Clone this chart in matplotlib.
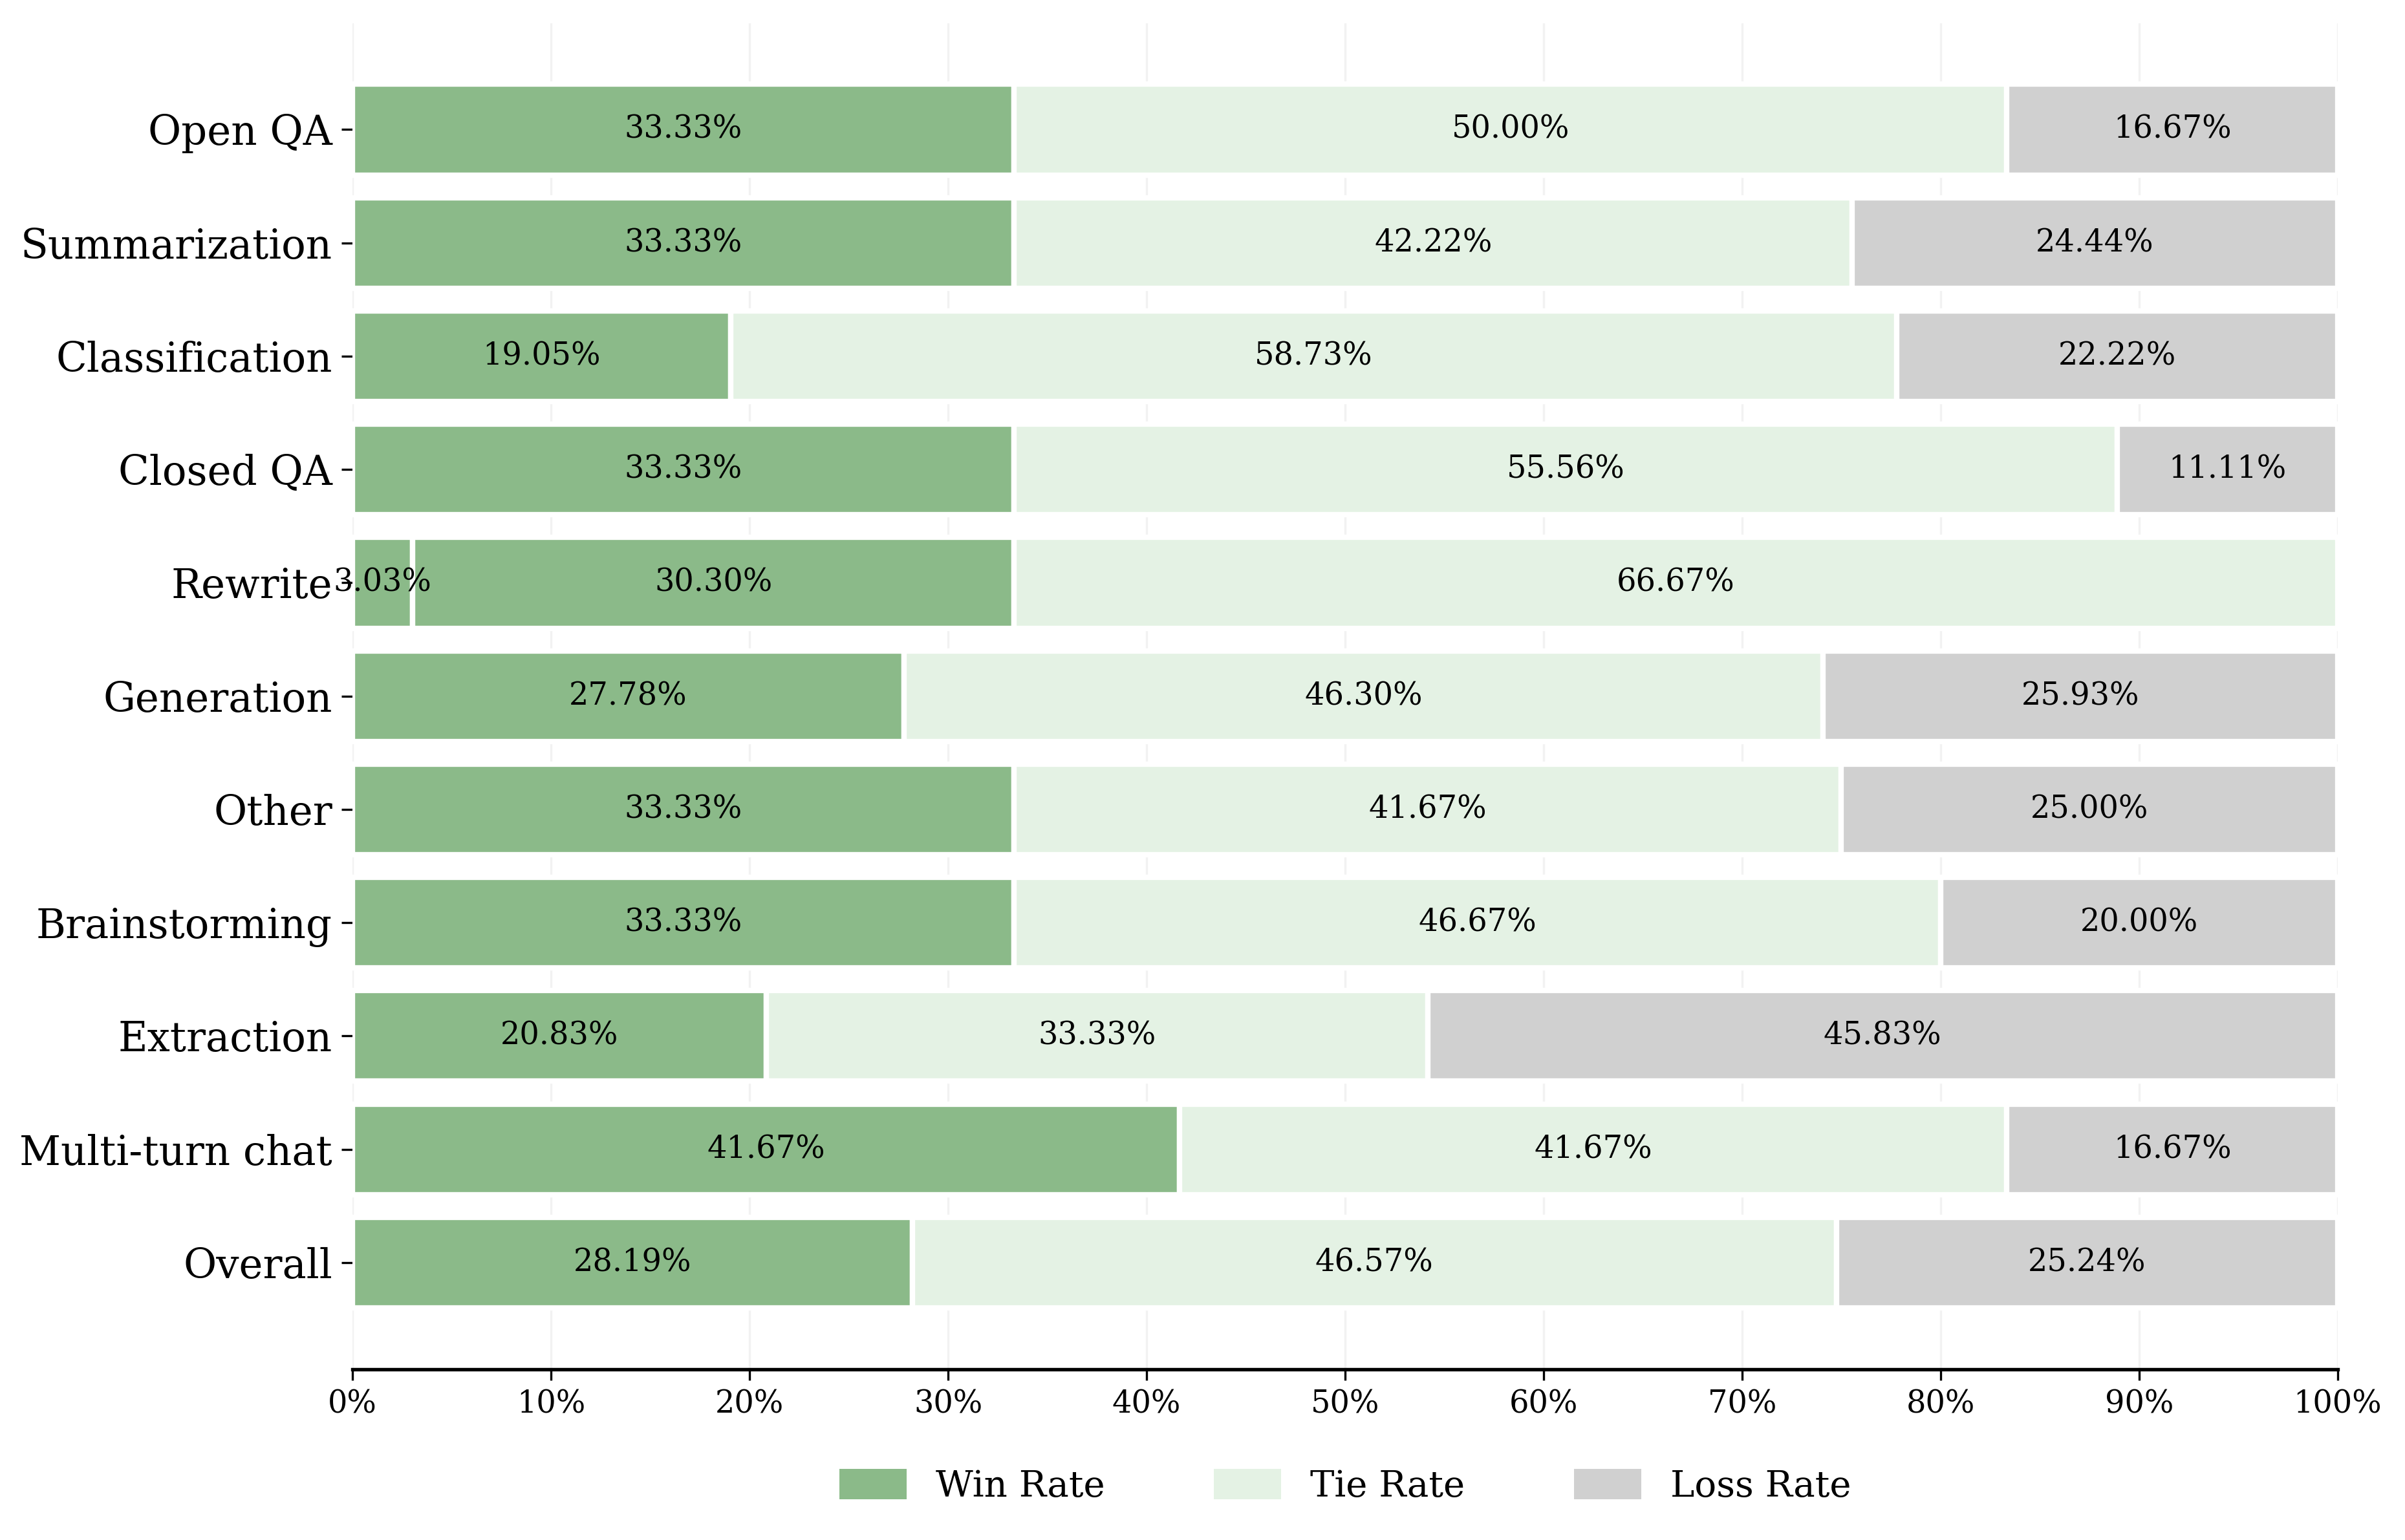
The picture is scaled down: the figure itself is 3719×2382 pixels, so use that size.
import matplotlib
matplotlib.use("Agg")
import matplotlib.pyplot as plt
import numpy as np

categories = ["Open QA", "Summarization", "Classification", "Closed QA", "Rewrite",
              "Generation", "Other", "Brainstorming", "Extraction", "Multi-turn chat", "Overall"]
win_rate = [33.33, 33.33, 19.05, 33.33, 3.03, 27.78, 33.33, 33.33, 20.83, 41.67, 28.19]
tie_rate = [50.00, 42.22, 58.73, 55.56, 30.30, 46.30, 41.67, 46.67, 33.33, 41.67, 46.57]
loss_rate = [16.67, 24.44, 22.22, 11.11, 66.67, 25.93, 25.00, 20.00, 45.83, 16.67, 25.24]
series_names = ["Win Rate", "Tie Rate", "Loss Rate"]
x_ticks = list(range(0, 101, 10))

plt.rcParams['font.family'] = ['DejaVu Serif']
c_win, c_tie, c_loss = "#8bba89", "#e4f2e4", "#d0d0d0"
row_colors = {i: [c_win, c_tie, c_loss] for i in range(len(categories))}
row_colors[categories.index("Rewrite")] = [c_win, c_win, c_tie]

fig = plt.figure(figsize=(3719/300, 2382/300), dpi=300)
ax = fig.add_axes([0.1466, 0.111, 0.8254, 0.874])

n = len(categories)
ypos = np.arange(n)[::-1]
series = [win_rate, tie_rate, loss_rate]
left = np.zeros(n)
for k, vals in enumerate(series):
    vals = np.array(vals)
    cols = [row_colors[i][k] for i in range(n)]
    ax.barh(ypos, vals, left=left, height=0.8, color=cols, edgecolor="white",
            linewidth=2.0, zorder=3)
    for i, v in enumerate(vals):
        if v > 0:
            ax.text(left[i] + v/2, ypos[i], f"{v:.2f}%", ha="center", va="center",
                    fontsize=11.5, zorder=4)
    left = left + vals

# legend handles
for name, c in zip(series_names, [c_win, c_tie, c_loss]):
    ax.barh([np.nan], [0], color=c, label=name)

ax.set_xlim(0, 100)
ax.set_xticks(x_ticks)
ax.set_xticklabels([f"{t}%" for t in x_ticks], fontsize=11.5)
ax.set_yticks(ypos)
ax.set_yticklabels(categories, fontsize=15.0)
ax.xaxis.grid(True, color="#f2f2f2", linewidth=0.8, zorder=0)
ax.set_axisbelow(True)
for s in ["top", "right", "left"]:
    ax.spines[s].set_visible(False)
ax.spines["bottom"].set_linewidth(1.3)
ax.tick_params(axis="y", length=4, width=0.8)
ax.tick_params(axis="x", length=4, width=0.8)

ax.legend(loc="upper center", bbox_to_anchor=(0.5, -0.05), ncol=3, frameon=False,
          fontsize=13.5, columnspacing=3.0, handlelength=1.85, handleheight=0.9)

fig.savefig("out.png", dpi=300)
